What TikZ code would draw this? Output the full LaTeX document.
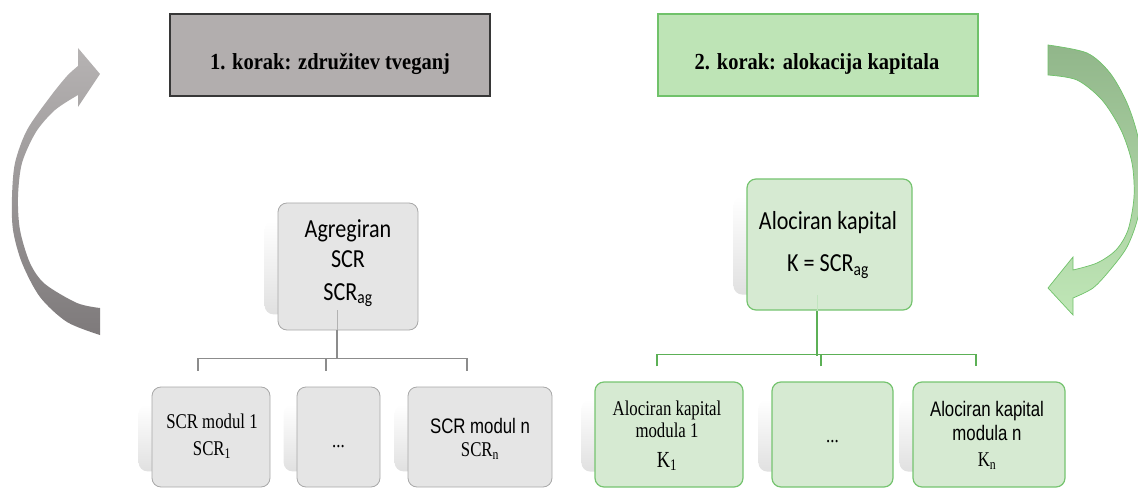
\documentclass[tikz,border=0pt]{standalone}
\usepackage{fontspec}
\usetikzlibrary{backgrounds,calc}

% type faces: condensed serif for headings and module boxes, Carlito for the top boxes
\newfontfamily\headfont[FakeStretch=0.89]{Liberation Serif}
\newfontfamily\calfont[FakeStretch=0.85]{Carlito}
\newfontfamily\serfont[FakeStretch=0.80]{Liberation Serif}
\newfontfamily\arfont[FakeStretch=0.80]{Liberation Sans}

\definecolor{titleGray}{RGB}{178,174,174}
\definecolor{titleGrayLine}{RGB}{55,55,55}
\definecolor{titleGreen}{RGB}{190,228,182}
\definecolor{greenLine}{RGB}{112,194,106}
\definecolor{boxGray}{RGB}{229,229,229}
\definecolor{boxGrayLine}{RGB}{168,168,168}
\definecolor{boxGreen}{RGB}{214,234,210}
\definecolor{boxGreenLine}{RGB}{118,196,112}
\definecolor{connGray}{RGB}{140,140,140}
\definecolor{connGreen}{RGB}{92,176,86}
\definecolor{arrGrayTop}{RGB}{182,179,179}
\definecolor{arrGrayBot}{RGB}{126,122,123}
\definecolor{arrGreenTop}{RGB}{145,182,138}
\definecolor{arrGreenMid}{RGB}{170,214,160}
\definecolor{arrGreenBot}{RGB}{192,231,183}

\begin{document}
\begin{tikzpicture}[x=1pt,y=-1pt,
  titlebox/.style={draw, line width=1.2pt, minimum width=320pt, minimum height=82pt, inner sep=0pt},
  graybox/.style={rectangle, rounded corners=9pt, draw=boxGrayLine, line width=0.8pt, fill=boxGray, inner sep=0pt},
  greenbox/.style={rectangle, rounded corners=9pt, draw=boxGreenLine, line width=1.2pt, fill=boxGreen, inner sep=0pt},
  lbl/.style={anchor=base, inner sep=0pt},
  lconn/.style={draw=connGray, line width=1.2pt},
  gconn/.style={draw=connGreen, line width=1.4pt},
  ghost/.style={rounded corners=9pt, top color=white, bottom color=black!12},
  headtxt/.style={font=\headfont\bfseries\fontsize{23}{27}\selectfont},
  caltxt/.style={font=\calfont\fontsize{26}{31}\selectfont},
  sertxt/.style={font=\serfont\fontsize{21}{25}\selectfont},
  artxt/.style={font=\arfont\fontsize{21}{25}\selectfont}
]
\useasboundingbox (0,0) rectangle (1138,489);

% ---- step headings
\node[titlebox, draw=titleGrayLine, fill=titleGray] (step1) at (330,55) {};
\node[titlebox, draw=greenLine, fill=titleGreen] (step2) at (818,55) {};
\node[lbl, headtxt] (step1txt) at (330,70) {1. korak: združitev tveganj};
\node[lbl, headtxt] (step2txt) at (817,70) {2. korak: alokacija kapitala};

% ---- curved arrows
\shade[top color=arrGrayTop, bottom color=arrGrayBot]
  plot[smooth] coordinates {(100,335) (67,322) (40,297) (22,263) (13,230) (12,197) (15,163) (27,130) (50,97) (67,76) (78,66)}
  -- (78,48) -- (100,74) -- (78,107) -- (78,95)
  -- plot[smooth] coordinates {(78,95) (55,110) (36,132) (22,163) (18,197) (20,230) (30,263) (45,284) (77,303) (100,308)}
  -- cycle;

\shade[top color=arrGreenTop, middle color=arrGreenMid, bottom color=arrGreenBot, draw=greenLine, line width=0.7pt]
  plot[smooth] coordinates {(1048,45) (1087,53) (1110,73) (1127,103) (1138,137) (1143,177) (1138,217) (1127,247) (1110,270) (1093,288) (1073,298)}
  -- (1073,315) -- (1048,288) -- (1073,257) -- (1073,270)
  -- plot[smooth] coordinates {(1073,270) (1097,263) (1116,250) (1128,230) (1134,197) (1132,163) (1121,130) (1102,100) (1077,80) (1048,75)}
  -- cycle;

% ---- left tree: aggregation
\node[graybox, minimum width=140pt, minimum height=127pt] (agg) at (348,266.5) {};
\node[graybox, minimum width=118pt, minimum height=100pt] (s1) at (211,437) {};
\node[graybox, minimum width=83pt, minimum height=100pt] (s2) at (338.5,437) {};
\node[graybox, minimum width=144pt, minimum height=100pt] (s3) at (480,437) {};

\node[lbl, caltxt] (aggA) at (348,238) {Agregiran};
\node[lbl, caltxt] (aggB) at (348,267) {SCR};
\node[lbl, caltxt] (aggC) at (348,300) {SCR\textsubscript{ag}};

\node[lbl, sertxt] (s1a) at (212,428) {SCR modul 1};
\node[lbl, sertxt] (s1b) at (212,455) {SCR\textsubscript{1}};
\node[lbl, sertxt] (s2a) at (338.5,447) {...};
\node[lbl, artxt] (s3a) at (480,433) {SCR modul n};
\node[lbl, sertxt] (s3b) at (480,456) {SCR\textsubscript{n}};

\draw[black!30, line width=0.8pt] ([xshift=-11pt]agg.south) -- ++(0,-20);
\draw[lconn] ([xshift=-11pt]agg.south) -- ++(0,29);
\draw[lconn] ([xshift=-13pt,yshift=16pt]s1.north) -- ++(0,-12) -| ([xshift=-13pt,yshift=16pt]s3.north);
\draw[lconn] ([xshift=-12.5pt,yshift=16pt]s2.north) -- ++(0,-12);

% ---- right tree: allocation
\node[greenbox, minimum width=165pt, minimum height=131pt] (aloc) at (829.5,244.5) {};
\node[greenbox, minimum width=148pt, minimum height=105pt] (k1) at (669,434.5) {};
\node[greenbox, minimum width=121pt, minimum height=105pt] (k2) at (832.5,434.5) {};
\node[greenbox, minimum width=152pt, minimum height=105pt] (k3) at (989,434.5) {};

\node[lbl, caltxt] (alocA) at (828,230) {Alociran kapital};
\node[lbl, caltxt] (alocB) at (828,272) {K = SCR\textsubscript{ag}};

\node[lbl, sertxt] (k1a) at (667,415) {Alociran kapital};
\node[lbl, sertxt] (k1b) at (667,437) {modula 1};
\node[lbl, sertxt, font=\serfont\fontsize{23}{26}\selectfont] (k1c) at (667,467) {K\textsubscript{1}};
\node[lbl, sertxt] (k2a) at (832.5,442) {...};
\node[lbl, artxt] (k3a) at (987,416) {Alociran kapital};
\node[lbl, artxt] (k3b) at (987,440) {modula n};
\node[lbl, sertxt] (k3c) at (987,466) {K\textsubscript{n}};

\draw[boxGreenLine!45, line width=0.8pt] ([xshift=-12.5pt]aloc.south) -- ++(0,-16);
\draw[gconn, line width=1.8pt] ([xshift=-12.5pt]aloc.south) -- ++(0,45);
\draw[gconn] ([xshift=-12pt,yshift=15pt]k1.north) -- ++(0,-12) -| ([xshift=-13pt,yshift=15pt]k3.north);
\draw[gconn] ([xshift=-11.5pt,yshift=15pt]k2.north) -- ++(0,-12);

% ---- soft shadows behind the boxes
\begin{scope}[on background layer]
  \foreach \b in {agg,s1,s2,s3,aloc,k1,k2,k3}{
    \shade[ghost] ($(\b.north west)+(-13,18)$) rectangle ($(\b.south east)+(-13,-16)$);
  }
\end{scope}
\end{tikzpicture}
\end{document}
